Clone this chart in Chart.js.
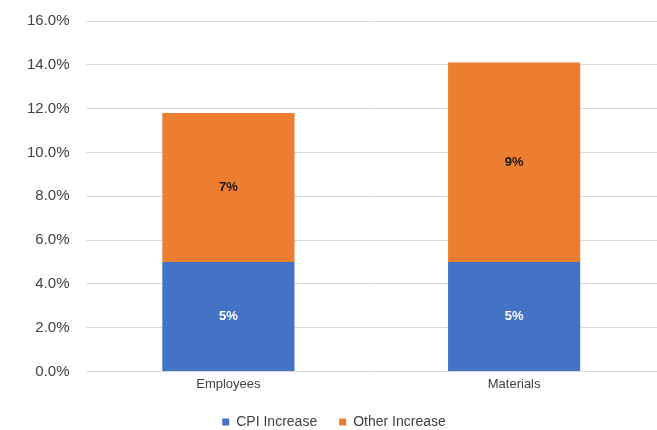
<!DOCTYPE html>
<html>
  <head>
    <meta charset="utf-8" />
    <title>CPI vs Other Increase</title>
    <style>
      html, body { margin: 0; padding: 0; background: #fff; }
      #wrap { position: relative; width: 657px; height: 430px; }
    </style>
  </head>
  <body>
    <div id="wrap"><canvas id="screen"></canvas></div>
    <script src="https://cdn.jsdelivr.net/npm/chart.js@4.4.1/dist/chart.umd.min.js"></script>
    <script>
      // values (percent)
      const categories = ["Employees", "Materials"];
      const cpiIncrease = [5.0, 5.0];
      const otherIncrease = [6.8, 9.1];
      const cpiLabels = ["5%", "5%"];
      const otherLabels = ["7%", "9%"];

      // draws the value text in the middle of each bar segment
      const barText = {
        id: "barText",
        afterDatasetsDraw(chart) {
          const ctx = chart.ctx;
          chart.data.datasets.forEach(function (ds, i) {
            const meta = chart.getDatasetMeta(i);
            meta.data.forEach(function (bar, j) {
              const p = bar.getProps(["x", "y", "base"], true);
              ctx.save();
              ctx.font = "bold 13px 'Liberation Sans', Arial, sans-serif";
              ctx.fillStyle = ds.textColor;
              ctx.textAlign = "center";
              ctx.textBaseline = "middle";
              ctx.fillText(ds.texts[j], p.x, (p.y + p.base) / 2);
              ctx.restore();
            });
          });
        }
      };

      // pull the legend a bit lower than chart.js would put it
      const legendShift = {
        id: "legendShift",
        beforeInit(chart) {
          const fit = chart.legend.fit;
          chart.legend.fit = function () {
            fit.bind(chart.legend)();
            this.height -= 9;
          };
        }
      };

      Chart.defaults.font.family = "'Liberation Sans', Arial, sans-serif";
      Chart.defaults.color = "#404040";

      const ctx = document.getElementById("screen").getContext("2d");
      const chart = new Chart(ctx, {
        type: "bar",
        data: {
          labels: categories,
          datasets: [
            {
              label: "CPI Increase",
              data: cpiIncrease,
              texts: cpiLabels,
              textColor: "#ffffff",
              backgroundColor: "#4472C4",
              categoryPercentage: 0.925,
              barPercentage: 0.5
            },
            {
              label: "Other Increase",
              data: otherIncrease,
              texts: otherLabels,
              textColor: "#1a1a1a",
              backgroundColor: "#ED7D31",
              categoryPercentage: 0.925,
              barPercentage: 0.5
            }
          ]
        },
        options: {
          responsive: true,
          maintainAspectRatio: false,
          animation: false,
          layout: { padding: { top: 21, right: 0, left: 11, bottom: 0 } },
          plugins: {
            legend: {
              position: "bottom",
              labels: {
                boxWidth: 7,
                boxHeight: 7,
                padding: 22,
                color: "#404040",
                font: { size: 14 }
              }
            },
            tooltip: { enabled: false }
          },
          scales: {
            x: {
              stacked: true,
              grid: { display: false },
              border: { display: false },
              ticks: { font: { size: 13 }, padding: -3 },
              afterFit: function (scale) { scale.height += 4; }
            },
            y: {
              stacked: true,
              min: 0,
              max: 16,
              ticks: {
                stepSize: 2,
                padding: 16,
                font: { size: 15 },
                callback: function (v) { return v.toFixed(1) + "%"; }
              },
              grid: { color: "#d9d9d9", drawTicks: false },
              border: { display: false },
              afterFit: function (scale) {
                scale.paddingTop = 0;
                scale.paddingBottom = 0;
              }
            }
          }
        },
        plugins: [barText, legendShift]
      });
    </script>
  </body>
</html>
